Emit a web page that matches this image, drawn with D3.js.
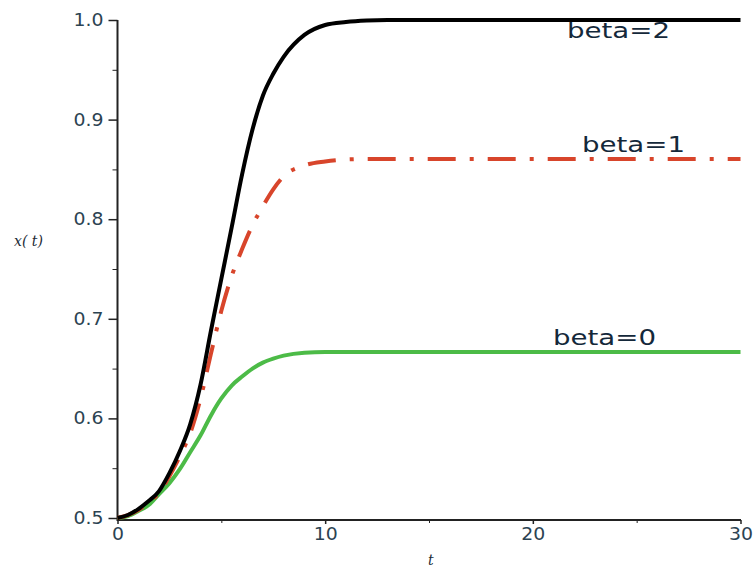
<!DOCTYPE html>
<meta charset="utf-8">
<script src="https://d3js.org/d3.v7.min.js"></script>
<style>
  body { margin: 0; background: #fff; }
  .tick text { font-family: 'DejaVu Sans', sans-serif; fill: #2c4352; }
  .axis path, .axis line { stroke: #222; }
</style>
<body>
<svg width="754" height="571"></svg>
</body>
<script>

// values
var times  = [0, 0.5, 1, 1.5, 2, 2.5, 3, 3.5, 4, 4.5, 5, 5.5, 6, 6.5, 7, 7.5, 8, 9, 10, 11, 12, 13, 15, 20, 25, 30];
var beta2  = [0.5, 0.503, 0.509, 0.517, 0.527, 0.545, 0.567, 0.594, 0.634, 0.688, 0.740, 0.792, 0.845, 0.890, 0.924, 0.946, 0.963, 0.985, 0.995, 0.998, 0.9995, 1.0, 1.0, 1.0, 1.0, 1.0];
var beta1  = [0.5, 0.503, 0.508, 0.516, 0.525, 0.542, 0.562, 0.585, 0.620, 0.665, 0.708, 0.743, 0.770, 0.794, 0.813, 0.830, 0.843, 0.854, 0.858, 0.860, 0.8605, 0.8605, 0.8605, 0.8605, 0.8605, 0.8605];
var beta0  = [0.5, 0.502, 0.507, 0.513, 0.524, 0.535, 0.549, 0.566, 0.583, 0.603, 0.620, 0.633, 0.642, 0.650, 0.656, 0.660, 0.663, 0.666, 0.6667, 0.6667, 0.6667, 0.6667, 0.6667, 0.6667, 0.6667, 0.6667];
var xTicks = [0, 10, 20, 30];
var yTicks = [0.5, 0.6, 0.7, 0.8, 0.9, 1.0];
var labels = ["beta=2", "beta=1", "beta=0"];

var svg = d3.select("svg");

var x = d3.scaleLinear().domain([0, 30]).range([117.5, 740.5]);
var y = d3.scaleLinear().domain([0.5, 1.0]).range([518, 20]);

// minor ticks
svg.append("g")
    .attr("class", "axis")
    .attr("transform", "translate(117.5,0)")
    .call(d3.axisLeft(y).tickValues([0.55, 0.65, 0.75, 0.85, 0.95]).tickSize(5).tickFormat(""))
    .select(".domain").remove();
svg.append("g")
    .attr("class", "axis")
    .attr("transform", "translate(0,520)")
    .call(d3.axisBottom(x).tickValues([5, 15, 25]).tickSize(3).tickFormat(""))
    .select(".domain").remove();

// main axes
var yAxis = svg.append("g")
    .attr("class", "axis")
    .attr("transform", "translate(117.5,0)")
    .call(d3.axisLeft(y).tickValues(yTicks).tickSize(9).tickSizeOuter(0).tickFormat(d3.format(".1f")));
yAxis.select(".domain").attr("stroke-width", 2).attr("d", "M0,20V521");
yAxis.selectAll(".tick line").attr("stroke-width", 1.5);
yAxis.selectAll(".tick text").attr("font-size", 17).attr("x", -14)
    .attr("textLength", 30).attr("lengthAdjust", "spacingAndGlyphs");

var xAxis = svg.append("g")
    .attr("class", "axis")
    .attr("transform", "translate(0,520)")
    .call(d3.axisBottom(x).tickValues(xTicks).tickSize(4).tickSizeOuter(0));
xAxis.select(".domain").attr("stroke-width", 2).attr("d", "M117.5,0H741");
xAxis.selectAll(".tick line").attr("stroke-width", 1.5);
xAxis.selectAll(".tick text").attr("font-size", 17).attr("y", 8)
    .attr("textLength", function(d) { return d == 0 ? 12 : 24; })
    .attr("lengthAdjust", "spacingAndGlyphs");

// axis titles
svg.append("text")
    .attr("x", 14).attr("y", 246)
    .attr("font-family", "'DejaVu Serif', serif")
    .attr("font-style", "italic")
    .attr("font-size", 14)
    .attr("fill", "#1d2b36")
    .text("x( t)");
svg.append("text")
    .attr("x", 428).attr("y", 565)
    .attr("font-family", "'DejaVu Serif', serif")
    .attr("font-style", "italic")
    .attr("font-size", 14)
    .attr("fill", "#1d2b36")
    .text("t");

var line = d3.line()
    .x(function(d) { return x(d[0]); })
    .y(function(d) { return y(d[1]); })
    .curve(d3.curveMonotoneX);

function pairs(vals) { return times.map(function(t, i) { return [t, vals[i]]; }); }

svg.append("path")
    .datum(pairs(beta0))
    .attr("fill", "none")
    .attr("stroke", "#4cbb47")
    .attr("stroke-width", 4)
    .attr("d", line);

svg.append("path")
    .datum(pairs(beta1))
    .attr("fill", "none")
    .attr("stroke", "#d8452b")
    .attr("stroke-width", 4)
    .attr("stroke-dasharray", "28,14,4,14")
    .attr("d", line);

svg.append("path")
    .datum(pairs(beta2))
    .attr("fill", "none")
    .attr("stroke", "#000")
    .attr("stroke-width", 4)
    .attr("d", line);

// curve labels
var labelPos = [[567, 38], [582, 152], [553, 345]];
svg.selectAll(".lbl")
    .data(labels)
    .enter().append("text")
    .attr("class", "lbl")
    .attr("x", function(d, i) { return labelPos[i][0]; })
    .attr("y", function(d, i) { return labelPos[i][1]; })
    .attr("font-family", "'DejaVu Sans', sans-serif")
    .attr("font-size", 21)
    .attr("fill", "#14283a")
    .attr("textLength", 103)
    .attr("lengthAdjust", "spacingAndGlyphs")
    .text(function(d) { return d; });

</script>
